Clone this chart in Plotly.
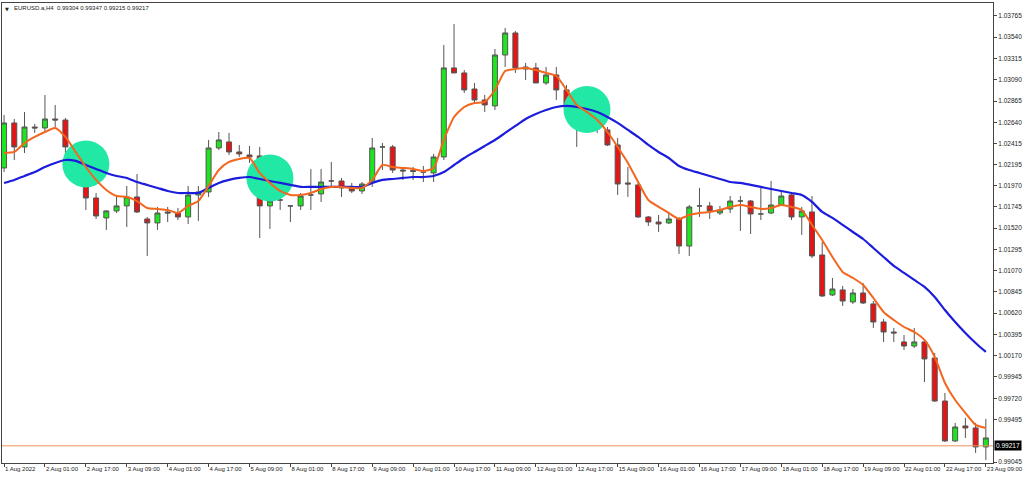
import plotly.graph_objects as go

# ---------------- data ----------------
SYMBOL_TITLE = "EURUSD.a,H4  0.99304 0.99347 0.99215 0.99217"

TICK_LABELS = ["1 Aug 2022", "2 Aug 01:00", "2 Aug 17:00", "3 Aug 09:00", "4 Aug 01:00",
               "4 Aug 17:00", "5 Aug 09:00", "8 Aug 01:00", "8 Aug 17:00", "9 Aug 09:00",
               "10 Aug 01:00", "10 Aug 17:00", "11 Aug 09:00", "12 Aug 01:00", "12 Aug 17:00",
               "15 Aug 09:00", "16 Aug 01:00", "16 Aug 17:00", "17 Aug 09:00", "18 Aug 01:00",
               "18 Aug 17:00", "19 Aug 09:00", "22 Aug 01:00", "22 Aug 17:00", "23 Aug 09:00"]
BARS_PER_LABEL = 4

PRICE_TICKS = ["1.03765", "1.03540", "1.03315", "1.03090", "1.02865", "1.02640", "1.02415",
               "1.02195", "1.01970", "1.01745", "1.01520", "1.01295", "1.01070", "1.00845",
               "1.00620", "1.00395", "1.00170", "0.99945", "0.99720", "0.99495", "0.99045"]

OPEN = [1.02157, 1.02633, 1.02379, 1.02590, 1.02580, 1.02675, 1.02664, 1.02368, 1.02061, 1.01839,
        1.01628, 1.01702, 1.01755, 1.01850, 1.01617, 1.01575, 1.01691, 1.01680, 1.01638, 1.01871,
        1.01903, 1.02368, 1.02432, 1.02326, 1.02294, 1.02284, 1.01755, 1.01818, 1.01755, 1.01755,
        1.01871, 1.01882, 1.02019, 1.02019, 1.01945, 1.01913, 1.02008, 1.02379, 1.02379, 1.02135,
        1.02130, 1.02114, 1.02104, 1.02273, 1.03215, 1.03162, 1.02992, 1.02876, 1.02813, 1.03352,
        1.03585, 1.03204, 1.03215, 1.03056, 1.03141, 1.02982, 1.02749, 1.02601, 1.02590, 1.02559,
        1.02400, 1.01998, 1.01977, 1.01638, 1.01585, 1.01575, 1.01617, 1.01331, 1.01755, 1.01755,
        1.01680, 1.01723, 1.01807, 1.01807, 1.01670, 1.01680, 1.01765, 1.01871, 1.01638, 1.01691,
        1.01236, 1.00813, 1.00866, 1.00739, 1.00834, 1.00718, 1.00527, 1.00421, 1.00316, 1.00273,
        1.00316, 1.00146, 0.99691, 0.99268, 0.99427, 0.99406, 0.99205]
HIGH = [1.02717, 1.02675, 1.02749, 1.02622, 1.02929, 1.02823, 1.02686, 1.02421, 1.02114, 1.01892,
        1.01712, 1.01871, 1.01966, 1.02093, 1.01638, 1.01744, 1.01744, 1.01733, 1.01966, 1.01966,
        1.02453, 1.02537, 1.02527, 1.02400, 1.02389, 1.02379, 1.01924, 1.01850, 1.01765, 1.01892,
        1.02146, 1.02146, 1.02220, 1.02051, 1.01998, 1.02008, 1.02474, 1.02421, 1.02400, 1.02167,
        1.02167, 1.02178, 1.02305, 1.03458, 1.03680, 1.03193, 1.03056, 1.02929, 1.03416, 1.03638,
        1.03606, 1.03268, 1.03268, 1.03225, 1.03225, 1.03035, 1.02802, 1.02686, 1.02696, 1.02590,
        1.02474, 1.02167, 1.01998, 1.01649, 1.01659, 1.01691, 1.01638, 1.01765, 1.01945, 1.01797,
        1.01755, 1.01860, 1.01860, 1.01818, 1.01966, 1.02019, 1.01913, 1.01892, 1.01744, 1.01860,
        1.01374, 1.00993, 1.00908, 1.00876, 1.00940, 1.00749, 1.00559, 1.00464, 1.00390, 1.00464,
        1.00337, 1.00199, 0.99776, 0.99459, 0.99512, 0.99459, 0.99501]
LOW = [1.02114, 1.02241, 1.02315, 1.02527, 1.02537, 1.02590, 1.02146, 1.02030, 1.01712, 1.01617,
       1.01501, 1.01680, 1.01532, 1.01680, 1.01226, 1.01501, 1.01585, 1.01606, 1.01564, 1.01596,
       1.01850, 1.02347, 1.02294, 1.02273, 1.02210, 1.01416, 1.01511, 1.01712, 1.01585, 1.01712,
       1.01712, 1.01797, 1.01956, 1.01850, 1.01892, 1.01882, 1.01956, 1.02135, 1.02104, 1.02030,
       1.02030, 1.02008, 1.02008, 1.02241, 1.03162, 1.02950, 1.02844, 1.02749, 1.02770, 1.03225,
       1.03162, 1.03088, 1.03056, 1.03035, 1.02876, 1.02686, 1.02379, 1.02559, 1.02527, 1.02389,
       1.01871, 1.01850, 1.01628, 1.01543, 1.01479, 1.01564, 1.01247, 1.01226, 1.01638, 1.01617,
       1.01659, 1.01680, 1.01490, 1.01458, 1.01606, 1.01670, 1.01755, 1.01606, 1.01448, 1.01204,
       1.00792, 1.00802, 1.00697, 1.00718, 1.00718, 1.00464, 1.00316, 1.00316, 1.00231, 1.00252,
       0.99892, 0.99681, 0.99258, 0.99258, 0.99300, 0.99141, 0.99067]
CLOSE = [1.02633, 1.02379, 1.02590, 1.02580, 1.02675, 1.02664, 1.02379, 1.02061, 1.01839, 1.01649,
         1.01702, 1.01755, 1.01850, 1.01691, 1.01575, 1.01680, 1.01680, 1.01638, 1.01871, 1.01903,
         1.02368, 1.02453, 1.02326, 1.02305, 1.02273, 1.01755, 1.01807, 1.01818, 1.01755, 1.01860,
         1.01871, 1.02008, 1.02019, 1.01945, 1.01913, 1.01987, 1.02368, 1.02379, 1.02135, 1.02125,
         1.02120, 1.02114, 1.02273, 1.03215, 1.03162, 1.02982, 1.02876, 1.02823, 1.03352, 1.03585,
         1.03215, 1.03225, 1.03056, 1.03141, 1.02982, 1.02823, 1.02580, 1.02580, 1.02569, 1.02400,
         1.01987, 1.01987, 1.01638, 1.01585, 1.01564, 1.01617, 1.01331, 1.01744, 1.01755, 1.01702,
         1.01712, 1.01807, 1.01807, 1.01670, 1.01670, 1.01765, 1.01860, 1.01638, 1.01702, 1.01226,
         1.00802, 1.00876, 1.00749, 1.00834, 1.00728, 1.00527, 1.00421, 1.00411, 1.00273, 1.00316,
         1.00136, 0.99691, 0.99268, 0.99416, 0.99406, 0.99205, 0.99300]

MA_FAST = [1.02315, 1.02326, 1.02421, 1.02485, 1.02537, 1.02580, 1.02485, 1.02326, 1.02167, 1.02030,
           1.01924, 1.01860, 1.01850, 1.01807, 1.01733, 1.01723, 1.01712, 1.01680, 1.01755, 1.01807,
           1.01966, 1.02135, 1.02220, 1.02252, 1.02262, 1.02104, 1.01998, 1.01913, 1.01871, 1.01871,
           1.01892, 1.01934, 1.01956, 1.01956, 1.01945, 1.01945, 1.02030, 1.02188, 1.02167, 1.02157,
           1.02146, 1.02125, 1.02157, 1.02453, 1.02696, 1.02802, 1.02844, 1.02855, 1.02982, 1.03183,
           1.03204, 1.03215, 1.03193, 1.03162, 1.03130, 1.02982, 1.02823, 1.02749, 1.02664, 1.02537,
           1.02379, 1.02210, 1.02008, 1.01818, 1.01744, 1.01680, 1.01617, 1.01659, 1.01680, 1.01691,
           1.01712, 1.01744, 1.01765, 1.01744, 1.01723, 1.01733, 1.01765, 1.01744, 1.01712, 1.01554,
           1.01395, 1.01215, 1.01056, 1.00993, 1.00919, 1.00781, 1.00633, 1.00548, 1.00474, 1.00421,
           1.00337, 1.00157, 0.99882, 0.99702, 0.99565, 0.99438, 0.99406]
MA_SLOW = [1.01998, 1.02030, 1.02072, 1.02114, 1.02167, 1.02210, 1.02241, 1.02231, 1.02188, 1.02146,
           1.02104, 1.02072, 1.02051, 1.02008, 1.01977, 1.01945, 1.01913, 1.01892, 1.01892, 1.01892,
           1.01945, 1.01998, 1.02030, 1.02051, 1.02061, 1.02040, 1.02019, 1.01998, 1.01977, 1.01956,
           1.01956, 1.01956, 1.01956, 1.01956, 1.01956, 1.01956, 1.01998, 1.02030, 1.02040, 1.02051,
           1.02061, 1.02061, 1.02072, 1.02114, 1.02188, 1.02262, 1.02326, 1.02389, 1.02453, 1.02527,
           1.02601, 1.02675, 1.02728, 1.02770, 1.02802, 1.02813, 1.02802, 1.02781, 1.02749, 1.02696,
           1.02633, 1.02559, 1.02485, 1.02400, 1.02326, 1.02262, 1.02178, 1.02135, 1.02104, 1.02072,
           1.02040, 1.02008, 1.01998, 1.01977, 1.01956, 1.01934, 1.01913, 1.01892, 1.01871, 1.01797,
           1.01691, 1.01628, 1.01554, 1.01479, 1.01405, 1.01310, 1.01215, 1.01120, 1.01046, 1.00972,
           1.00898, 1.00792, 1.00654, 1.00527, 1.00411, 1.00305, 1.00210]

CURRENT_PRICE = 0.99217

HIGHLIGHT_BAR = [8.0, 26.0, 57.0]
HIGHLIGHT_PRICE = [1.02199, 1.02051, 1.02775]

# ---------------- figure ----------------
bars = list(range(len(OPEN)))
tick_pos = list(range(0, len(OPEN), BARS_PER_LABEL))
FONT = "Liberation Sans, Arial, sans-serif"

fig = go.Figure()

fig.add_trace(go.Scatter(
    x=HIGHLIGHT_BAR, y=HIGHLIGHT_PRICE, mode="markers",
    marker=dict(size=47, color="#22e8a6", line=dict(width=0)),
    hoverinfo="skip", showlegend=False))

fig.add_trace(go.Candlestick(
    x=bars, open=OPEN, high=HIGH, low=LOW, close=CLOSE,
    increasing=dict(fillcolor="#1ee61e", line=dict(color="#555555", width=1)),
    decreasing=dict(fillcolor="#e61414", line=dict(color="#555555", width=1)),
    whiskerwidth=0, showlegend=False))

fig.add_trace(go.Scatter(
    x=bars, y=MA_SLOW, mode="lines",
    line=dict(color="#1c1cdc", width=2.2, shape="spline", smoothing=0.6),
    hoverinfo="skip", showlegend=False))

fig.add_trace(go.Scatter(
    x=bars, y=MA_FAST, mode="lines",
    line=dict(color="#f2661e", width=2, shape="spline", smoothing=0.6),
    hoverinfo="skip", showlegend=False))

fig.add_shape(type="line", xref="paper", x0=0, x1=1, yref="y",
              y0=CURRENT_PRICE, y1=CURRENT_PRICE,
              line=dict(color="#ee9060", width=1))

fig.add_annotation(xref="paper", x=1, xanchor="left", xshift=1,
                   yref="y", y=CURRENT_PRICE, yanchor="middle",
                   text=f"{CURRENT_PRICE:.5f}", showarrow=False,
                   bgcolor="#000000", font=dict(color="#ffffff", size=6.5, family=FONT),
                   borderpad=1)

fig.add_annotation(xref="paper", x=0, xanchor="left", xshift=1,
                   yref="paper", y=1, yanchor="top", yshift=-1,
                   text="▼", showarrow=False,
                   font=dict(size=5, color="#222222", family="DejaVu Sans"))
fig.add_annotation(xref="paper", x=0, xanchor="left", xshift=10,
                   yref="paper", y=1, yanchor="top", yshift=0,
                   text=SYMBOL_TITLE, showarrow=False,
                   font=dict(size=6, color="#222222", family=FONT))

fig.update_layout(
    width=1024, height=477,
    margin=dict(l=1, r=30, t=3, b=14),
    paper_bgcolor="#ffffff", plot_bgcolor="#ffffff",
    showlegend=False,
    xaxis=dict(
        range=[-0.2, 96.7], tickmode="array", tickvals=tick_pos, ticktext=TICK_LABELS,
        tickangle=0,
        ticks="outside", ticklen=3, tickcolor="#444444", ticklabelposition="outside right",
        tickfont=dict(size=6, color="#222222", family=FONT),
        showline=True, mirror=True, linecolor="#444444", linewidth=1,
        showgrid=False, zeroline=False, rangeslider=dict(visible=False), fixedrange=True),
    yaxis=dict(
        side="right", range=[0.99035, 1.03902], tickmode="array",
        tickvals=[float(t) for t in PRICE_TICKS], ticktext=PRICE_TICKS,
        ticks="outside", ticklen=3, tickcolor="#444444",
        tickfont=dict(size=6.5, color="#222222", family=FONT),
        showline=True, mirror=True, linecolor="#444444", linewidth=1,
        showgrid=False, zeroline=False, fixedrange=True),
)

fig.write_html("out.html", config={"displayModeBar": False},
               post_script="document.body.style.margin='0';document.body.style.overflow='hidden';")
